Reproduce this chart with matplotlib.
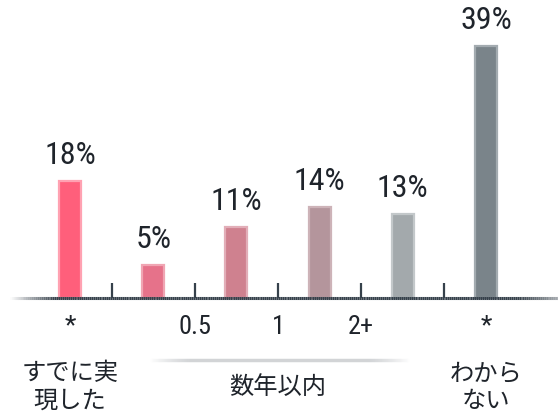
import numpy as np
import matplotlib
matplotlib.use("Agg")
import matplotlib.pyplot as plt
from matplotlib.collections import LineCollection
from matplotlib.colors import to_rgba

# Survey shares (%) per answer
values = [18, 5, 11, 14, 13, 39]
value_labels = [f"{v}%" for v in values]
bar_colors = ["#FF5F7B", "#E6728A", "#CF818F", "#B4959C", "#A3A9AC", "#7A848A"]
edge_colors = ["#FFA2B2", "#F0A5B3", "#E2AEB8", "#CDB3B8", "#C3C8CA", "#A3ABB0"]
sub_labels = ["*", "0.5", "1", "2+", "*"]
group_labels = ["すでに実\n現した", "数年以内", "わから\nない"]

# layout
bar_x = np.arange(len(values))
sub_x = [0, 1.5, 2.5, 3.5, 5]
group_x = [0, 2.5, 5]
tick_x = np.arange(len(values) - 1) + 0.5

W, H = 558, 414
px_per_unit_x = 83.2
px_per_pct = 6.45
x0_px = 70
base_px = 298.5  # from top

NUM_FONT = ["Roboto Condensed", "Barlow Semi Condensed", "Asap Condensed", "DejaVu Sans"]
JP_FONT = ["Noto Sans CJK JP", "DejaVu Sans"]
TXT = "#1F242B"
AXC = "#36414B"

fig = plt.figure(figsize=(W / 100, H / 100), dpi=100)
ax = fig.add_axes([0, 0, 1, 1])
ax.set_xlim(-x0_px / px_per_unit_x, (W - x0_px) / px_per_unit_x)
ax.set_ylim(-(H - base_px) / px_per_pct, base_px / px_per_pct)
ax.axis("off")

ax.bar(bar_x, values, width=0.265, color=bar_colors, edgecolor=edge_colors,
       linewidth=1.6, zorder=2)

for x, v, lab in zip(bar_x, values, value_labels):
    ax.annotate(lab, (x, v), xytext=(0, 12), textcoords="offset pixels",
                ha="center", va="bottom", fontsize=23, color=TXT,
                family=NUM_FONT)

# baseline with faded ends
def faded_line(x_start, x_end, y, color, lw, fade_in, fade_out, n=300):
    xs = np.linspace(x_start, x_end, n + 1)
    segs = [[(xs[i], y), (xs[i + 1], y)] for i in range(n)]
    mid = (xs[:-1] + xs[1:]) / 2
    a = np.ones(n)
    a = np.minimum(a, np.clip((mid - x_start) / fade_in, 0, 1))
    a = np.minimum(a, np.clip((x_end - mid) / fade_out, 0, 1))
    rgba = np.array([to_rgba(color)] * n)
    rgba[:, 3] = a
    ax.add_collection(LineCollection(segs, colors=rgba, linewidths=lw,
                                     capstyle="butt", zorder=3))

xl = ax.get_xlim()
faded_line(xl[0] + 10 / px_per_unit_x, xl[1] + 30 / px_per_unit_x, 0, AXC, 2.2,
           45 / px_per_unit_x, 70 / px_per_unit_x)

for tx in tick_x:
    ax.plot([tx, tx], [0, 15 / px_per_pct], color=AXC, lw=1.6,
            solid_capstyle="butt", zorder=3)

for x, lab in zip(sub_x, sub_labels):
    ax.annotate(lab, (x, 0), xytext=(0, -28), textcoords="offset pixels",
                ha="center", va="center", fontsize=19, color=TXT,
                family=NUM_FONT)

# bracket under the "within a few years" group
faded_line(1.5 - 45 / px_per_unit_x, 3.5 + 48 / px_per_unit_x, -62.5 / px_per_pct,
           "#C4C7CA", 2.4, 40 / px_per_unit_x, 40 / px_per_unit_x)

for x, lab in zip(group_x, group_labels):
    ax.annotate(lab, (x, 0), xytext=(0, -88.5), textcoords="offset pixels",
                ha="center", va="center", fontsize=17.5, color=TXT,
                family=JP_FONT, linespacing=1.1)

fig.savefig("out.png", dpi=100)
